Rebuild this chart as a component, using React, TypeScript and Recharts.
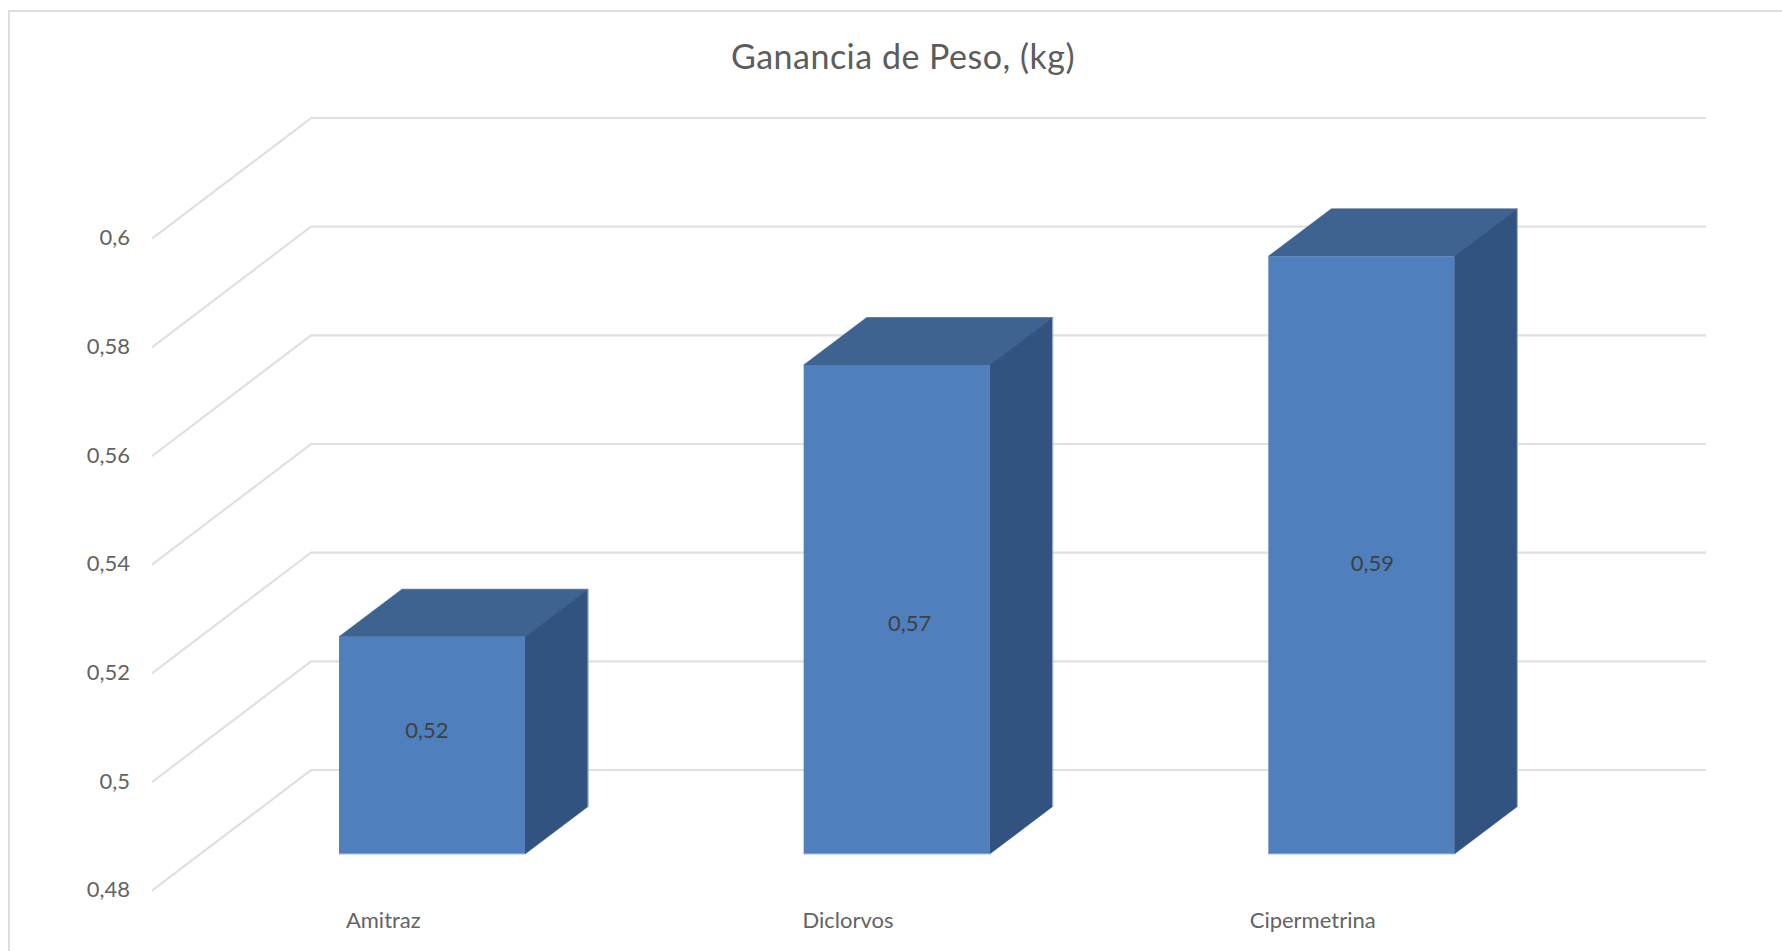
import { BarChart, Bar, CartesianGrid, LabelList, XAxis, YAxis } from 'recharts';

const categories = ['Amitraz', 'Diclorvos', 'Cipermetrina'];
const gainValues = [0.52, 0.57, 0.59];
const weightTicks = [0.48, 0.5, 0.52, 0.54, 0.56, 0.58, 0.6];

const chartData = categories.map((name, i) => ({ name, gain: gainValues[i] }));

// nudges for the value labels, they don't sit dead centre on the bars
const labelNudgeX = [-5, 13, 11];
const labelNudgeY = [-16, 13, 7];

const FONT = 'Lato, "Open Sans", sans-serif';
const formatComma = (v: number) => String(v).replace('.', ',');

// Depth of the fake 3D box and of the floor/wall
const BOX_DX = 63;
const BOX_DY = 47.5;
const WALL_DX = 111;
const WALL_DY = 84;
const FRONT_DX = 48;
const FRONT_DY = 36.7;

const Box3D = ({ x, y, width, height }: any) => {
  const right = x + width;
  const bottom = y + height;
  return (
    <g>
      <polygon
        points={`${x},${y} ${x + BOX_DX},${y - BOX_DY} ${right + BOX_DX},${y - BOX_DY} ${right},${y}`}
        fill="#3e6390"
        stroke="#3e6390"
        strokeWidth={0.6}
      />
      <polygon
        points={`${right},${y} ${right + BOX_DX},${y - BOX_DY} ${right + BOX_DX},${bottom - BOX_DY} ${right},${bottom}`}
        fill="#325380"
        stroke="#325380"
        strokeWidth={0.6}
      />
      <rect x={x} y={y} width={width} height={height} fill="#4f80bd" />
      {/* pale highlight along the outer edges */}
      <line x1={right + BOX_DX} y1={y - BOX_DY} x2={right + BOX_DX} y2={bottom - BOX_DY} stroke="#a8bbd3" strokeWidth={1} />
      <line x1={x} y1={bottom} x2={right} y2={bottom} stroke="#a8c0de" strokeWidth={1} />
    </g>
  );
};

// Each grid line runs along the side wall and then across the back wall
const WallLine = ({ x1, x2, y1 }: any) => (
  <polyline
    points={`${x1 - FRONT_DX},${y1 + FRONT_DY} ${x1 + WALL_DX},${y1 - WALL_DY} ${x2 + WALL_DX + 1},${y1 - WALL_DY}`}
    fill="none"
    stroke="#e0e0e0"
    strokeWidth={2.2}
  />
);

const WeightTick = ({ x, y, payload }: any) => (
  <text
    x={x - 70}
    y={y + FRONT_DY - 2}
    textAnchor="end"
    dominantBaseline="central"
    fontFamily={FONT}
    fontSize={22}
    fill="#636363"
  >
    {formatComma(payload.value)}
  </text>
);

const CategoryTick = ({ x, y, payload }: any) => (
  <text
    x={x - FRONT_DX - 1}
    y={y + 65}
    textAnchor="middle"
    dominantBaseline="central"
    fontFamily={FONT}
    fontSize={22}
    fill="#636363"
  >
    {payload.value}
  </text>
);

const ValueLabel = ({ x, y, width, height, value, index }: any) => (
  <text
    x={x + width / 2 + labelNudgeX[index]}
    y={y + height / 2 + labelNudgeY[index]}
    textAnchor="middle"
    dominantBaseline="central"
    fontFamily={FONT}
    fontSize={22}
    fill="#404040"
  >
    {formatComma(value)}
  </text>
);

export default function App() {
  return (
    <div style={{ position: 'absolute', left: 0, top: 0, width: 1782, height: 951, overflow: 'hidden', background: '#fff' }}>
      {/* chart frame, only the top and left edges fall inside the page */}
      <div
        style={{
          position: 'absolute',
          left: 8,
          top: 10,
          right: 0,
          bottom: 0,
          borderTop: '2px solid #dcdcdc',
          borderLeft: '2px solid #dcdcdc',
        }}
      />
      <div
        style={{
          position: 'absolute',
          left: 0,
          width: 1806,
          top: 36,
          textAlign: 'center',
          fontFamily: FONT,
          fontSize: 34,
          letterSpacing: 0.5,
          lineHeight: '40px',
          color: '#5c5c5c',
        }}
      >
        Ganancia de Peso, (kg)
      </div>
      <div style={{ position: 'absolute', left: 0, top: 0 }}>
        <BarChart
          width={1782}
          height={951}
          data={chartData}
          margin={{ top: 202, right: 188, bottom: 37, left: 140 }}
          barSize={186}
        >
          <CartesianGrid horizontal={(props: any) => <WallLine key={props.key} {...props} />} vertical={false} />
          <XAxis dataKey="name" axisLine={false} tickLine={false} tickSize={0} tickMargin={0} height={60} tick={CategoryTick} interval={0} />
          <YAxis
            domain={[0.48, 0.6]}
            ticks={weightTicks}
            width={60}
            axisLine={false}
            tickLine={false}
            tickSize={0}
            tickMargin={0}
            interval={0}
            tick={WeightTick}
          />
          <Bar dataKey="gain" shape={Box3D} isAnimationActive={false}>
            <LabelList dataKey="gain" content={ValueLabel} />
          </Bar>
        </BarChart>
      </div>
    </div>
  );
}
